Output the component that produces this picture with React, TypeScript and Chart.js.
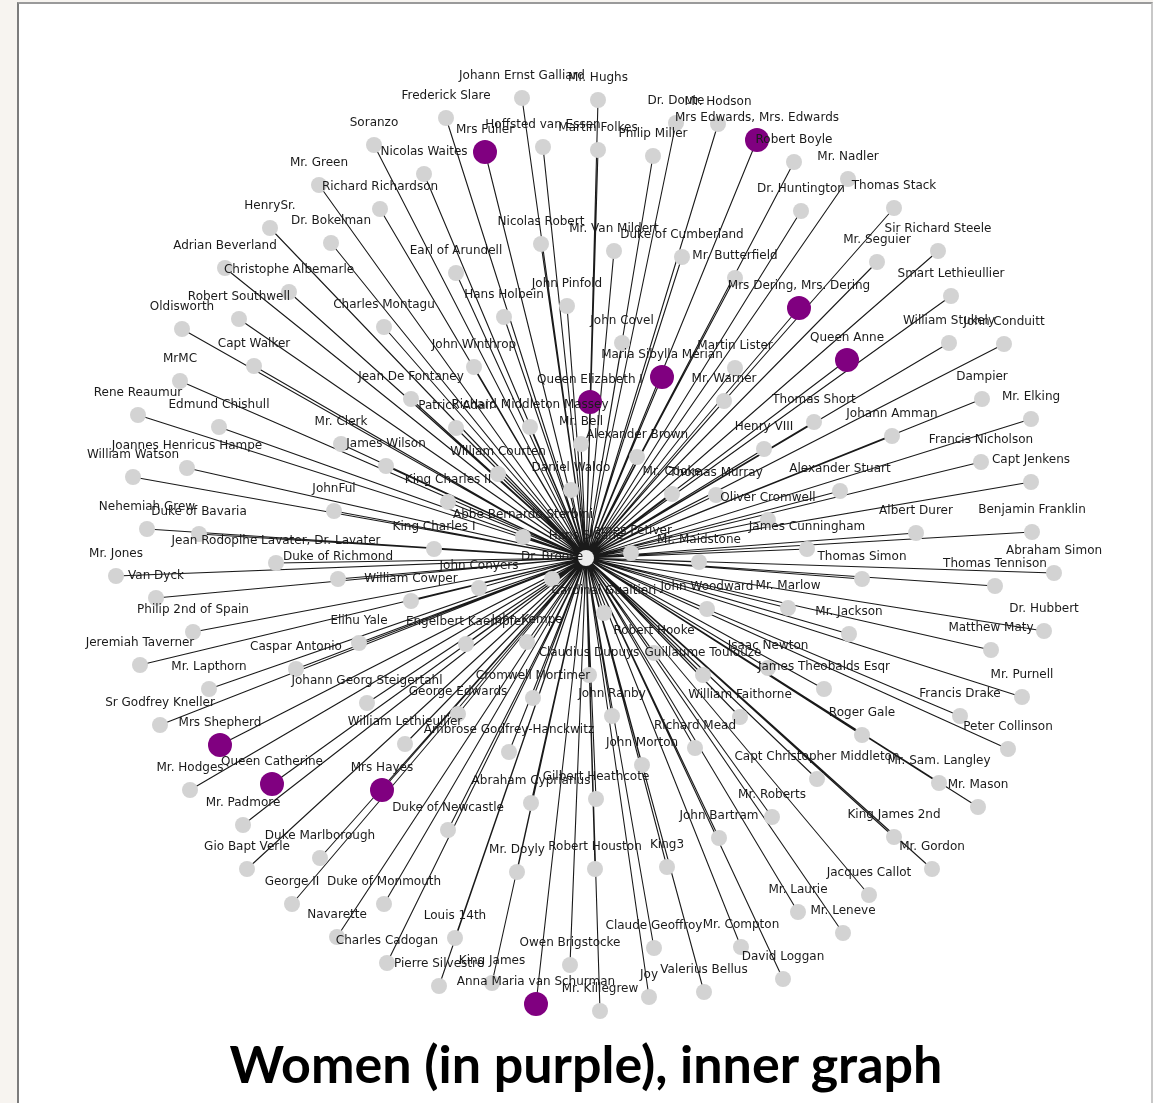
import React, { useEffect, useRef } from 'react';
import { Chart, registerables } from 'chart.js';

Chart.register(...registerables);

// ---- Data (layout positions of the ego network around the hub) ----
const hubName = 'Hans Sloane';
const hubX = 586;
const hubY = 558;

const nodeNames: string[] = [
  'Johann Ernst Galliard', 'Mr. Hughs', 'Frederick Slare', 'Dr. Doute', 'Mr. Hodson',
  'Mrs Edwards, Mrs. Edwards', 'Soranzo', 'Hoffsted van Essen', 'Mrs Fuller', 'Martin Folkes',
  'Philip Miller', 'Robert Boyle', 'Nicolas Waites', 'Mr. Nadler', 'Mr. Green',
  'Dr. Huntington', 'Thomas Stack', 'Richard Richardson', 'HenrySr.', 'Dr. Bokelman',
  'Nicolas Robert', 'Mr. Van Mildert', 'Sir Richard Steele', 'Duke of Cumberland', 'Mr. Seguier',
  'Adrian Beverland', 'Earl of Arundell', 'Mr. Butterfield', 'Christophe Albemarle', 'Smart Lethieullier',
  'John Pinfold', 'Mrs Dering, Mrs. Dering', 'Hans Holbein', 'Robert Southwell', 'Charles Montagu',
  'Oldisworth', 'John Covel', 'William Stukely', 'John Conduitt', 'Capt Walker',
  'John Winthrop', 'Queen Anne', 'Martin Lister', 'Maria Sibylla Merian', 'MrMC',
  'Jean De Fontaney', 'Queen Elizabeth I', 'Mr. Warner', 'Dampier', 'Rene Reaumur',
  'Mr. Elking', 'Patrick Adair', 'Richard Middleton Massey', 'Edmund Chishull', 'Thomas Short',
  'Johann Amman', 'Mr. Bell', 'Mr. Clerk', 'Henry VIII', 'Alexander Brown',
  'Francis Nicholson', 'James Wilson', 'Joannes Henricus Hampe', 'William Watson', 'William Courten',
  'Capt Jenkens', 'Daniel Waldo', 'Mr. Cooke', 'Thomas Murray', 'Alexander Stuart',
  'King Charles II', 'JohnFul', 'Oliver Cromwell', 'Nehemiah Grew', 'Duke of Bavaria',
  'Albert Durer', 'Benjamin Franklin', 'Abbe Bernardo Sterbini', 'King Charles I', 'James Cunningham',
  'James Petiver', 'Mr. Maidstone', 'Jean Rodoplhe Lavater, Dr. Lavater', 'Duke of Richmond', 'Mr. Jones',
  'Dr. Brooke', 'John Conyers', 'Van Dyck', 'William Cowper', 'Cardinal Gualtieri',
  'John Woodward', 'Mr. Marlow', 'Thomas Simon', 'Thomas Tennison', 'Abraham Simon',
  'Philip 2nd of Spain', 'Elihu Yale', 'Engelbert Kaempfer', 'John Kempe', 'Mr. Jackson',
  'Dr. Hubbert', 'Matthew Maty', 'Robert Hooke', 'Jeremiah Taverner', 'Caspar Antonio',
  'Isaac Newton', 'Claudius Dupuys', 'Guillaume Toulouze', 'Mr. Lapthorn', 'James Theobalds Esqr',
  'Mr. Purnell', 'Johann Georg Steigertahl', 'Cromwell Mortimer', 'George Edwards', 'John Ranby',
  'William Faithorne', 'Francis Drake', 'Sr Godfrey Kneller', 'Roger Gale', 'Mrs Shepherd',
  'William Lethieullier', 'Richard Mead', 'Ambrose Godfrey-Hanckwitz', 'Peter Collinson', 'John Morton',
  'Capt Christopher Middleton', 'Mr. Sam. Langley', 'Mr. Hodges', 'Queen Catherine', 'Mrs Hayes',
  'Abraham Cyprianus', 'Gilbert Heathcote', 'Mr. Mason', 'Mr. Roberts', 'Mr. Padmore',
  'Duke of Newcastle', 'John Bartram', 'King James 2nd', 'Duke Marlborough', 'Gio Bapt Verle',
  'Mr. Doyly', 'Robert Houston', 'King3', 'Mr. Gordon', 'Jacques Callot',
  'George II', 'Duke of Monmouth', 'Mr. Laurie', 'Navarette', 'Louis 14th',
  'Mr. Leneve', 'Claude Geoffroy', 'Mr. Compton', 'Charles Cadogan', 'Owen Brigstocke',
  'David Loggan', 'Pierre Silvestre', 'King James', 'Valerius Bellus', 'Joy',
  'Anna Maria van Schurman', 'Mr. Killegrew',
];

const nodeX: number[] = [
  522, 598, 446, 676, 718,
  757, 374, 543, 485, 598,
  653, 794, 424, 848, 319,
  801, 894, 380, 270, 331,
  541, 614, 938, 682, 877,
  225, 456, 735, 289, 951,
  567, 799, 504, 239, 384,
  182, 622, 949, 1004, 254,
  474, 847, 735, 662, 180,
  411, 590, 724, 982, 138,
  1031, 456, 530, 219, 814,
  892, 581, 341, 764, 637,
  981, 386, 187, 133, 498,
  1031, 571, 672, 716, 840,
  448, 334, 768, 147, 199,
  916, 1032, 523, 434, 807,
  631, 699, 276, 338, 116,
  552, 479, 156, 411, 604,
  707, 788, 862, 995, 1054,
  193, 359, 466, 527, 849,
  1044, 991, 654, 140, 296,
  768, 589, 703, 209, 824,
  1022, 367, 533, 458, 612,
  740, 960, 160, 862, 220,
  405, 695, 509, 1008, 642,
  817, 939, 190, 272, 382,
  531, 596, 978, 772, 243,
  448, 719, 894, 320, 247,
  517, 595, 667, 932, 869,
  292, 384, 798, 337, 455,
  843, 654, 741, 387, 570,
  783, 439, 492, 704, 649,
  536, 600,
];

const nodeY: number[] = [
  98, 100, 118, 123, 124,
  140, 145, 147, 152, 150,
  156, 162, 174, 179, 185,
  211, 208, 209, 228, 243,
  244, 251, 251, 257, 262,
  268, 273, 278, 292, 296,
  306, 308, 317, 319, 327,
  329, 343, 343, 344, 366,
  367, 360, 368, 377, 381,
  399, 402, 401, 399, 415,
  419, 428, 427, 427, 422,
  436, 444, 444, 449, 457,
  462, 466, 468, 477, 474,
  482, 490, 494, 495, 491,
  502, 511, 520, 529, 534,
  533, 532, 537, 549, 549,
  553, 562, 563, 579, 576,
  579, 588, 598, 601, 613,
  609, 608, 579, 586, 573,
  632, 643, 644, 642, 634,
  631, 650, 653, 665, 669,
  668, 675, 675, 689, 689,
  697, 703, 698, 714, 716,
  717, 716, 725, 735, 745,
  744, 748, 752, 749, 765,
  779, 783, 790, 784, 790,
  803, 799, 807, 817, 825,
  830, 838, 837, 858, 869,
  872, 869, 867, 869, 895,
  904, 904, 912, 937, 938,
  933, 948, 947, 963, 965,
  979, 986, 983, 992, 997,
  1004, 1011,
];

const womenNames: string[] = [
  'Mrs Edwards, Mrs. Edwards', 'Mrs Fuller', 'Mrs Dering, Mrs. Dering', 'Queen Anne',
  'Maria Sibylla Merian', 'Queen Elizabeth I', 'Mrs Shepherd', 'Queen Catherine',
  'Mrs Hayes', 'Anna Maria van Schurman',
];

const titleText = 'Women (in purple), inner graph';

// ---- Styles ----
const W = 1153;
const H = 1103;
const LABEL_DY = 22;
const GRAY = '#d3d3d3';
const PURPLE = '#800080';

export default function App() {
  const canvasRef = useRef<HTMLCanvasElement | null>(null);

  useEffect(() => {
    const canvas = canvasRef.current;
    if (!canvas) return;

    const men = nodeNames
      .map((n, i) => ({ x: nodeX[i], y: nodeY[i], n }))
      .filter((p) => !womenNames.includes(p.n));
    const women = nodeNames
      .map((n, i) => ({ x: nodeX[i], y: nodeY[i], n }))
      .filter((p) => womenNames.includes(p.n));
    const edges: { x: number; y: number }[] = [];
    nodeNames.forEach((_, i) => {
      edges.push({ x: hubX, y: hubY });
      edges.push({ x: nodeX[i], y: nodeY[i] });
    });

    const labelPlugin = {
      id: 'nodeLabels',
      afterDatasetsDraw(chart: any) {
        const { ctx, scales } = chart;
        ctx.save();
        ctx.font = '12px "DejaVu Sans"';
        ctx.fillStyle = '#1a1a1a';
        ctx.textAlign = 'center';
        ctx.textBaseline = 'middle';
        const draw = (name: string, x: number, y: number) => {
          ctx.fillText(name, scales.x.getPixelForValue(x), scales.y.getPixelForValue(y) - LABEL_DY);
        };
        nodeNames.forEach((n, i) => draw(n, nodeX[i], nodeY[i]));
        draw(hubName, hubX, hubY);
        ctx.restore();
      },
    };

    const chart = new Chart(canvas, {
      type: 'scatter',
      data: {
        datasets: [
          {
            label: 'women',
            data: women,
            backgroundColor: PURPLE,
            borderWidth: 0,
            pointRadius: 12,
            order: 1,
          },
          {
            label: 'hub',
            data: [{ x: hubX, y: hubY }],
            backgroundColor: '#ececec',
            borderWidth: 0,
            pointRadius: 8,
            order: 2,
          },
          {
            label: 'others',
            data: men,
            backgroundColor: GRAY,
            borderWidth: 0,
            pointRadius: 8,
            order: 3,
          },
          {
            label: 'edges',
            data: edges,
            showLine: true,
            borderColor: '#1a1a1a',
            borderWidth: 1.1,
            pointRadius: 0,
            order: 4,
          } as any,
        ],
      },
      options: {
        animation: false,
        responsive: false,
        devicePixelRatio: 1,
        layout: { padding: 0, autoPadding: false },
        scales: {
          x: { type: 'linear', min: 0, max: W, display: false },
          y: { type: 'linear', min: 0, max: H, reverse: true, display: false },
        },
        plugins: {
          legend: { display: false },
          tooltip: { enabled: false },
        },
      },
      plugins: [labelPlugin],
    });

    return () => chart.destroy();
  }, []);

  return (
    <div style={{ position: 'fixed', left: 0, top: 0, width: W, height: H, background: '#f7f4f0', overflow: 'hidden' }}>
      <div
        style={{
          position: 'absolute', left: 17, top: 2, width: W - 17, height: H - 2, boxSizing: 'border-box',
          background: '#ffffff', borderLeft: '2px solid #7c7c7c', borderTop: '2px solid #9a9a9a',
          borderRight: '2px solid #c8c8c8',
        }}
      />
      <canvas ref={canvasRef} width={W} height={H} style={{ position: 'absolute', left: 0, top: 0, width: W, height: H }} />
      <div
        style={{
          position: 'absolute', left: 0, top: 1037, width: 1172, textAlign: 'center', whiteSpace: 'nowrap',
          fontFamily: 'Lato, "Noto Sans", sans-serif', fontWeight: 700, fontSize: 52, lineHeight: 1, color: '#000',
        }}
      >
        {titleText}
      </div>
    </div>
  );
}
